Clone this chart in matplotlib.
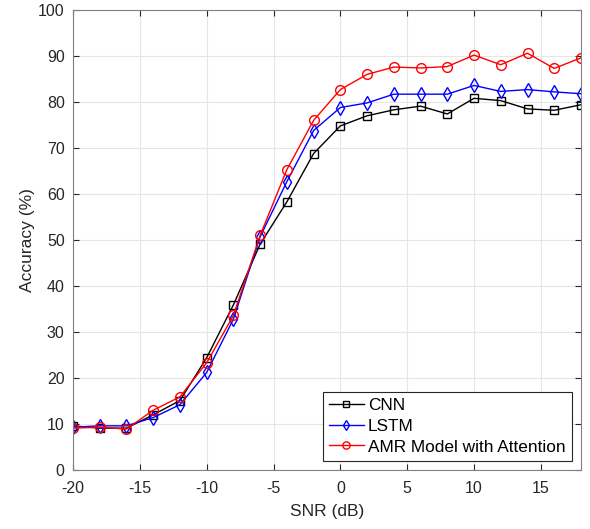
import matplotlib.pyplot as plt

plt.rcParams['font.family'] = ['Liberation Sans', 'DejaVu Sans']
plt.rcParams['axes.unicode_minus'] = False

snr = [-20, -18, -16, -14, -12, -10, -8, -6, -4, -2, 0, 2, 4, 6, 8, 10, 12, 14, 16, 18]
cnn = [9.6, 9.1, 9.1, 12.0, 15.1, 24.4, 35.9, 49.1, 58.3, 68.8, 74.8, 77.0, 78.3, 79.1, 77.4, 80.8, 80.3, 78.5, 78.2, 79.4]
lstm = [9.3, 9.6, 9.6, 11.4, 14.2, 21.2, 32.8, 50.7, 62.7, 73.8, 78.8, 79.8, 81.7, 81.7, 81.7, 83.6, 82.3, 82.7, 82.2, 81.8]
amr = [9.1, 9.3, 8.9, 13.0, 15.9, 23.3, 33.6, 51.0, 65.3, 76.0, 82.7, 86.0, 87.6, 87.4, 87.7, 90.2, 88.1, 90.6, 87.3, 89.6]

fig = plt.figure(figsize=(5.9, 5.29), dpi=100)
ax = fig.add_axes([0.1237, 0.1115, 0.861, 0.8696])

ax.plot(snr, cnn, color='black', marker='s', markersize=6, mfc='none', lw=1, label='CNN')
ax.plot(snr, lstm, color='blue', marker='d', markersize=7, mfc='none', lw=1, label='LSTM')
ax.plot(snr, amr, color='red', marker='o', markersize=7, mfc='none', lw=1, label='AMR Model with Attention')

ax.set_xlim(-20, 18)
ax.set_ylim(0, 100)
ax.set_xticks(range(-20, 16, 5))
ax.set_yticks(range(0, 101, 10))
ax.grid(True, color='#e6e6e6', lw=0.8)
ax.set_axisbelow(True)
ax.tick_params(direction='in', top=True, right=True, labelsize=11.5, colors='#262626', length=4)
ax.tick_params(axis='x', pad=8)
ax.tick_params(axis='y', pad=6)
for s in ax.spines.values():
    s.set_color('#808080')
    s.set_linewidth(0.8)

ax.set_xlabel('SNR (dB)', fontsize=12.5, color='#262626', labelpad=6)
ax.set_ylabel('Accuracy (%)', fontsize=12.5, color='#262626', labelpad=2)

leg = ax.legend(loc='lower right', fontsize=12.4, fancybox=False, framealpha=1,
                edgecolor='#262626', borderaxespad=0.55, handlelength=2.0,
                handletextpad=0.25, borderpad=0.35, labelspacing=0.33,
                markerscale=0.75)
leg.get_frame().set_linewidth(0.8)

fig.savefig('out.png', dpi=100)
